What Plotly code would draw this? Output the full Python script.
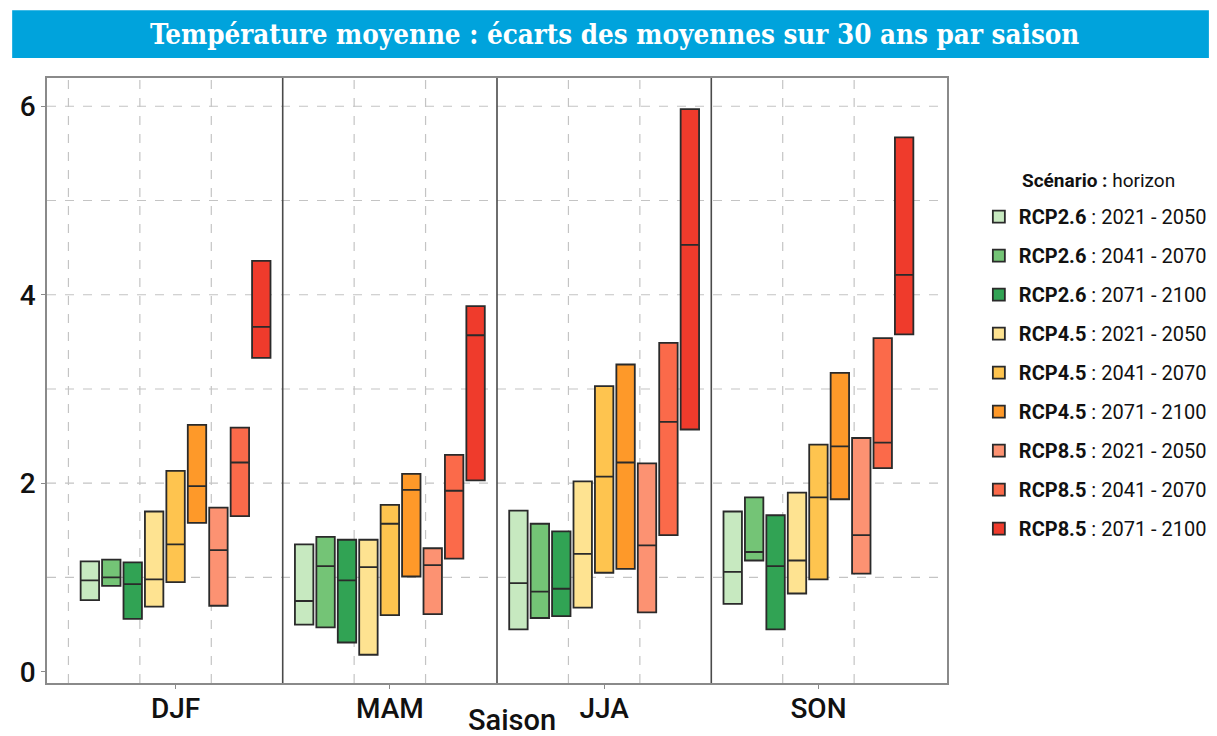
import plotly.graph_objects as go

seasons = ["DJF", "MAM", "JJA", "SON"]

scenarios = ["RCP2.6", "RCP2.6", "RCP2.6", "RCP4.5", "RCP4.5", "RCP4.5", "RCP8.5", "RCP8.5", "RCP8.5"]
horizons = ["2021 - 2050", "2041 - 2070", "2071 - 2100"] * 3
colors = ["#c7e9c0", "#74c476", "#31a354", "#fee391", "#fec44f", "#fe9929", "#fc9272", "#fb6a4a", "#ef3b2c"]

# q1 / median / q3 per series, one value per season (DJF, MAM, JJA, SON)
q1 = [
    [0.76, 0.50, 0.45, 0.72],
    [0.91, 0.47, 0.57, 1.18],
    [0.56, 0.31, 0.59, 0.45],
    [0.69, 0.18, 0.68, 0.83],
    [0.95, 0.60, 1.05, 0.98],
    [1.58, 1.01, 1.09, 1.83],
    [0.70, 0.61, 0.63, 1.04],
    [1.65, 1.20, 1.45, 2.16],
    [3.33, 2.03, 2.57, 3.58],
]
median = [
    [0.97, 0.75, 0.94, 1.06],
    [1.00, 1.12, 0.85, 1.27],
    [0.93, 0.97, 0.88, 1.12],
    [0.98, 1.11, 1.25, 1.18],
    [1.35, 1.57, 2.07, 1.85],
    [1.97, 1.93, 2.22, 2.39],
    [1.29, 1.13, 1.34, 1.45],
    [2.22, 1.92, 2.65, 2.43],
    [3.66, 3.57, 4.53, 4.21],
]
q3 = [
    [1.17, 1.35, 1.71, 1.70],
    [1.19, 1.43, 1.57, 1.85],
    [1.16, 1.40, 1.49, 1.66],
    [1.70, 1.40, 2.02, 1.90],
    [2.13, 1.77, 3.03, 2.41],
    [2.62, 2.10, 3.26, 3.17],
    [1.74, 1.31, 2.21, 2.48],
    [2.59, 2.30, 3.49, 3.54],
    [4.36, 3.88, 5.97, 5.67],
]

y_ticks = [0, 2, 4, 6]
y_grid = [1, 2, 3, 4, 5, 6]

FONT = "Roboto, 'Noto Sans', sans-serif"
TXT = "#111111"

fig = go.Figure()
for i in range(len(scenarios)):
    fig.add_trace(go.Box(
        name=f"<b>{scenarios[i]}</b> : {horizons[i]}",
        x=seasons,
        q1=q1[i], median=median[i], q3=q3[i],
        lowerfence=q1[i], upperfence=q3[i],
        fillcolor=colors[i],
        line=dict(color="#2a2a2a", width=1.8),
        legendgroup=f"g{i}",
        boxpoints=False,
        hoverinfo="skip",
    ))

shapes = []
n = len(seasons)
# panel grid (dashed vertical) and dividers (solid)
for k in range(n):
    for off in ([-0.5] if k == 0 else []) + [-1/6, 1/6]:
        shapes.append(dict(type="line", xref="x", yref="paper", x0=k + off, x1=k + off, y0=0, y1=1,
                           line=dict(color="#c4c4c4", width=1.2, dash="dash"), layer="below"))
    if k < n - 1:
        shapes.append(dict(type="line", xref="x", yref="paper", x0=k + 0.5, x1=k + 0.5, y0=0, y1=1,
                           line=dict(color="#4a4a4a", width=1.6), layer="above"))
for v in y_grid:
    shapes.append(dict(type="line", xref="paper", yref="y", x0=0, x1=1, y0=v, y1=v,
                       line=dict(color="#c4c4c4", width=1.2, dash="dash"), layer="below"))
# title banner
shapes.append(dict(type="rect", xref="paper", yref="paper", x0=-0.0387, x1=1.291, y0=1.033, y1=1.112,
                   fillcolor="#00a3dc", line=dict(width=0), layer="below"))

fig.update_layout(
    width=1217, height=736,
    margin=dict(l=35, r=278, t=70, b=61),
    paper_bgcolor="white", plot_bgcolor="white",
    boxmode="group", boxgap=0.1, boxgroupgap=0.14,
    shapes=shapes,
    font=dict(family=FONT, color=TXT),
    showlegend=True,
    legend=dict(
        font=dict(size=20, color=TXT, family=FONT),
        x=1.0354, xanchor="left", y=0.803, yanchor="top",
        tracegroupgap=10, traceorder="grouped",
        bgcolor="rgba(0,0,0,0)",
    ),
    xaxis=dict(
        type="category", categoryorder="array", categoryarray=seasons,
        range=[-0.6, n - 0.4],
        showgrid=False, zeroline=False,
        showline=True, linecolor="#8a8a8a", linewidth=1.5, mirror=True,
        ticks="outside", ticklen=4, tickcolor="#8a8a8a",
        ticklabelstandoff=-4,
        tickfont=dict(size=28, color=TXT, family=FONT, weight=500),
    ),
    yaxis=dict(
        range=[-0.12, 6.3],
        tickvals=y_ticks, ticktext=[str(v) for v in y_ticks],
        showgrid=False, zeroline=False,
        showline=True, linecolor="#8a8a8a", linewidth=1.5, mirror=True,
        ticks="outside", ticklen=4, tickcolor="#8a8a8a",
        tickfont=dict(size=28, color=TXT, family=FONT, weight=500),
    ),
    annotations=[
        dict(text="<b>Température moyenne : écarts des moyennes sur 30 ans par saison</b>",
             xref="paper", yref="paper", x=0.6305, y=1.0727, xanchor="center", yanchor="middle",
             showarrow=False,
             font=dict(family="'DejaVu Serif Condensed', 'DejaVu Serif', serif", size=27.5, color="white")),
        dict(text="Saison", xref="paper", yref="paper", x=0.5166, y=-0.061,
             xanchor="center", yanchor="middle", showarrow=False,
             font=dict(family=FONT, size=29, color=TXT, weight=500)),
        dict(text="<b>Scénario :</b> horizon", xref="paper", yref="paper", x=1.0808, y=0.8314,
             xanchor="left", yanchor="middle", showarrow=False,
             font=dict(family=FONT, size=19, color=TXT)),
    ],
)

fig.write_html("out.html")
